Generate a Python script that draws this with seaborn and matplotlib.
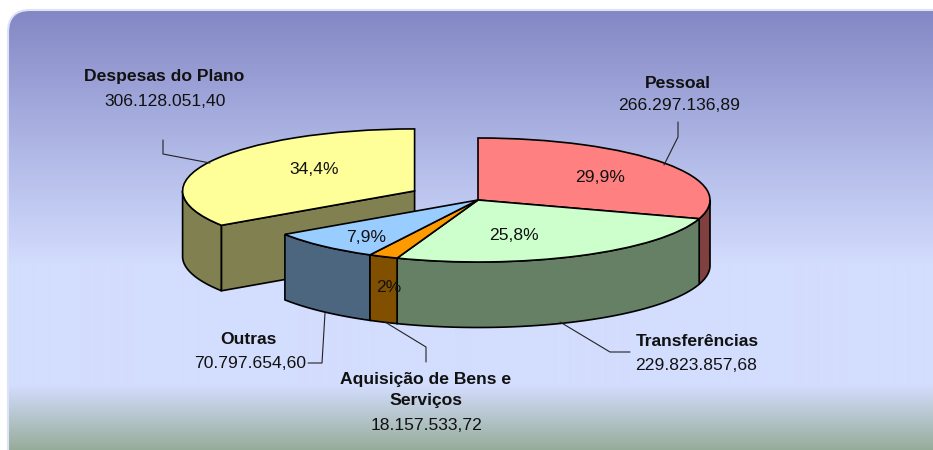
import numpy as np
import matplotlib
matplotlib.use("Agg")
import matplotlib.pyplot as plt
from matplotlib.patches import FancyBboxPatch
import seaborn as sns

# data (clockwise from 12 o'clock)
names = ["Pessoal", "Transferências", "Aquisição de Bens e\nServiços", "Outras", "Despesas do Plano"]
values = [266297136.89, 229823857.68, 18157533.72, 70797654.60, 306128051.40]
pct_labels = ["29,9%", "25,8%", "2%", "7,9%", "34,4%"]
top_colors = ["#FF8080", "#CCFFCC", "#FF9900", "#99CCFF", "#FFFF99"]
side_colors = ["#804040", "#668066", "#804F00", "#4D6680", "#808050"]
explode = [0, 0, 0, 0, 0.31]

sns.set_theme(style="white")
plt.rcParams["font.family"] = ["Liberation Sans", "DejaVu Sans"]

W, H = 933, 450
cx, cy = 478, 200   # pie centre in pixels
rx, ry = 232, 62    # ellipse radii
depth = 65.5 / ry

fig = plt.figure(figsize=(W / 100, H / 100), dpi=100, facecolor="white")

# background, pixel coordinates
bg = fig.add_axes([0, 0, 1, 1], zorder=0)
bg.set_xlim(0, W)
bg.set_ylim(H, 0)
bg.axis("off")
ys = np.arange(H)
stops_y = [10, 150, 265, 385, 450]
stops_c = np.array([(131, 135, 196), (176, 184, 230), (211, 221, 253), (211, 221, 253), (150, 172, 152)]) / 255
grad = np.stack([np.interp(ys, stops_y, stops_c[:, i]) for i in range(3)], axis=1)[:, None, :]
im = bg.imshow(grad, extent=(0, W, H, 0), aspect="auto", interpolation="bilinear")
box = FancyBboxPatch((8, 10), 960, 470, boxstyle="round,pad=0,rounding_size=22",
                     facecolor="none", edgecolor="#DCE3F8", linewidth=1.5)
bg.add_patch(box)
im.set_clip_path(box)

# pie, one unit = rx across and ry down
ax = fig.add_axes([0, 0, 1, 1], zorder=1)
wedges, _ = ax.pie(values, colors=top_colors, explode=explode, startangle=90, counterclock=False,
                   wedgeprops=dict(edgecolor="black", linewidth=1.2))
ax.set_aspect("auto")
ax.set_xlim(-cx / rx, (W - cx) / rx)
ax.set_ylim(-(H - cy) / ry, cy / ry)
for w in wedges:
    w.set_zorder(3)

shares = np.array(values) / sum(values)
edges = np.concatenate([[0], np.cumsum(shares)]) * 2 * np.pi
mids = (edges[:-1] + edges[1:]) / 2


def wall(t0, t1, dx, dy, color):
    t0, t1 = max(t0, np.pi / 2), min(t1, 3 * np.pi / 2)
    t = np.linspace(t0, t1, 80)
    x = np.sin(t) + dx
    y = np.cos(t) + dy
    ax.fill(np.r_[x, x[::-1]], np.r_[y, y[::-1] - depth], facecolor=color, edgecolor="black",
            linewidth=1.2, zorder=2)


# exploded slice goes first, the rest sits in front of it
order = [4, 0, 1, 3, 2]
for i in order:
    dx = explode[i] * np.sin(mids[i])
    dy = explode[i] * np.cos(mids[i])
    wall(edges[i], edges[i + 1], dx, dy, side_colors[i])
    if explode[i] > 0:
        # cut face of the pulled out slice
        px = np.array([dx, dx + np.sin(edges[i])])
        py = np.array([dy, dy + np.cos(edges[i])])
        ax.fill(np.r_[px, px[::-1]], np.r_[py, py[::-1] - depth], facecolor=side_colors[i],
                edgecolor="black", linewidth=1.2, zorder=2)

# labels and leader lines, pixel coordinates
top = fig.add_axes([0, 0, 1, 1], zorder=2)
top.set_xlim(0, W)
top.set_ylim(H, 0)
top.axis("off")
top.patch.set_alpha(0)


def money(v):
    return f"{v:,.2f}".replace(",", "#").replace(".", ",").replace("#", ".")


name_xy = [(678, 83), (697, 342), (426, 390), (248, 340), (164, 77)]
value_xy = [(679, 106), (696, 365), (427, 426), (250, 364), (165, 102)]
pct_xy = [(600, 178), (514, 235), (389, 287), (366, 237), (314, 169)]
leaders = [
    [(678, 122), (678, 137), (664, 165)],
    [(560, 322), (610, 352), (630, 352)],
    [(385, 322), (426, 347), (426, 362)],
    [(325, 313), (322, 363), (308, 363)],
    [(163, 140), (163, 154), (210, 163)],
]
fs = 12.6
for i in range(len(values)):
    top.text(*name_xy[i], names[i], ha="center", va="center", fontsize=fs, fontweight="bold",
             color="#111111", linespacing=1.45)
    top.text(*value_xy[i], money(values[i]), ha="center", va="center", fontsize=fs, color="#111111")
    top.text(*pct_xy[i], pct_labels[i], ha="center", va="center", fontsize=fs, color="#111111")
    lx, ly = zip(*leaders[i])
    top.plot(lx, ly, color="#222222", linewidth=0.8)

fig.savefig("out.png", dpi=100)
